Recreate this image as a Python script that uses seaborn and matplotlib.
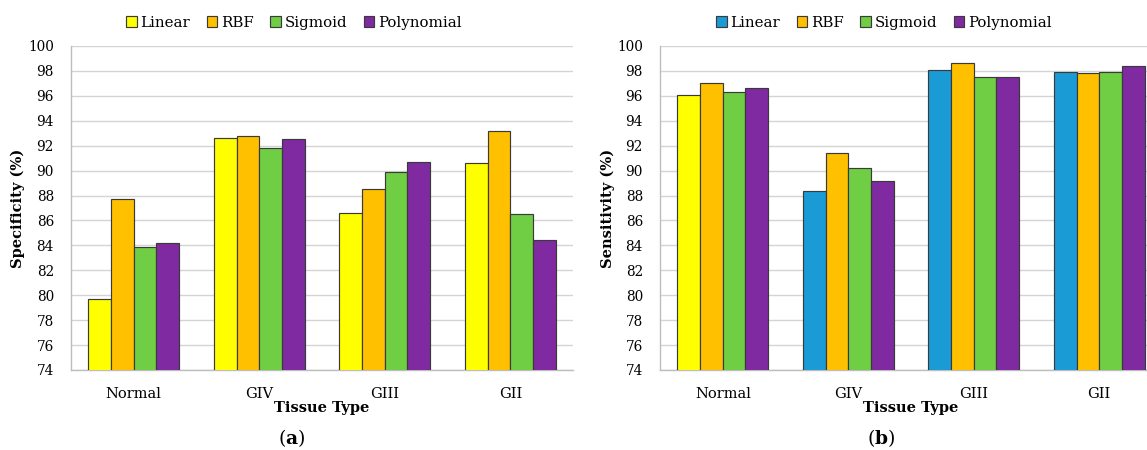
import numpy as np
import pandas as pd
import matplotlib
matplotlib.use("Agg")
import matplotlib.pyplot as plt
import seaborn as sns

# ---- data -------------------------------------------------------------
tissues = ["Normal", "GIV", "GIII", "GII"]
kernels = ["Linear", "RBF", "Sigmoid", "Polynomial"]

spec_linear = [79.7, 92.6, 86.6, 90.6]
spec_rbf = [87.7, 92.8, 88.5, 93.2]
spec_sigmoid = [83.9, 91.8, 89.9, 86.5]
spec_poly = [84.2, 92.5, 90.7, 84.4]

sens_linear = [96.1, 88.4, 98.1, 97.9]
sens_rbf = [97.0, 91.4, 98.6, 97.8]
sens_sigmoid = [96.3, 90.2, 97.5, 97.9]
sens_poly = [96.6, 89.2, 97.5, 98.4]

y_ticks = list(range(74, 101, 2))

# ---- styling ----------------------------------------------------------
YELLOW = "#FFFF00"
ORANGE = "#FFC000"
GREEN = "#70CE44"
PURPLE = "#7F2AA0"
BLUE = "#1A9BD6"
EDGE = "#3a3a3a"
GRID = "#d4d4d4"
AXIS = "#bdbdbd"

palette_a = [YELLOW, ORANGE, GREEN, PURPLE]
palette_b = [BLUE, ORANGE, GREEN, PURPLE]
# the Normal/Linear bar of the sensitivity panel is filled yellow
linear_fill_b = [YELLOW, BLUE, BLUE, BLUE]

sns.set_theme(style="white")
plt.rcParams["font.family"] = ["DejaVu Serif"]
plt.rcParams["mathtext.fontset"] = "dejavuserif"
for key in ["text.color", "axes.labelcolor", "xtick.labelcolor",
            "ytick.labelcolor"]:
    plt.rcParams[key] = "black"


def long_frame(linear, rbf, sigmoid, poly):
    rows = []
    for kernel, vals in zip(kernels, [linear, rbf, sigmoid, poly]):
        for tissue, v in zip(tissues, vals):
            rows.append({"Tissue": tissue, "Kernel": kernel, "Value": v})
    return pd.DataFrame(rows)


def draw_panel(fig, rect, df, palette, ylabel, legend_x, letter, letter_x,
               ylabel_x, linear_fill=None):
    ax = fig.add_axes(rect)
    sns.barplot(data=df, x="Tissue", y="Value", hue="Kernel",
                order=tissues, hue_order=kernels, palette=palette,
                width=0.725, saturation=1.0, errorbar=None,
                edgecolor=EDGE, linewidth=0.85, ax=ax, zorder=3)
    if linear_fill is not None:
        for bar, color in zip(ax.containers[0], linear_fill):
            bar.set_facecolor(color)

    ax.set_ylim(74, 100)
    ax.set_yticks(y_ticks)
    ax.set_yticklabels([str(t) for t in y_ticks], fontsize=9.8)
    ax.yaxis.grid(True, color=GRID, linewidth=1.0)
    ax.set_axisbelow(True)

    for side in ["top", "right"]:
        ax.spines[side].set_visible(False)
    for side in ["left", "bottom"]:
        ax.spines[side].set_color(AXIS)
        ax.spines[side].set_linewidth(1.0)

    ax.tick_params(axis="y", which="major", direction="out", length=4.3,
                   width=1.0, color=AXIS, pad=8, labelcolor="black")
    ax.set_xticks(range(len(tissues)))
    ax.set_xticklabels(tissues, fontsize=10.5)
    ax.set_xticks(np.arange(-0.5, len(tissues), 1.0), minor=True)
    ax.tick_params(axis="x", which="major", length=0, pad=12,
                   labelcolor="black")
    ax.tick_params(axis="x", which="minor", direction="out", length=4.5,
                   width=1.0, color=AXIS)
    ax.set_xlim(-0.5, len(tissues) - 0.5)

    ax.set_xlabel("Tissue Type", fontsize=10.5, fontweight="bold",
                  color="black")
    ax.xaxis.set_label_coords(0.5, -0.097)
    ax.set_ylabel(ylabel, fontsize=10.5, fontweight="bold", color="black")
    ax.yaxis.set_label_coords(ylabel_x, 0.5)

    sns.move_legend(ax, "center", bbox_to_anchor=(legend_x, 0.949),
                    bbox_transform=fig.transFigure, ncol=4, frameon=False,
                    title=None, fontsize=10.8, handlelength=0.7,
                    handleheight=0.7, handletextpad=0.25,
                    columnspacing=1.1, labelcolor="black")
    for h in ax.get_legend().legend_handles:
        h.set_edgecolor(EDGE)
        h.set_linewidth(0.85)

    fig.text(letter_x, 0.026, letter, ha="center", va="center", fontsize=13.5,
             color="black")
    return ax


fig = plt.figure(figsize=(11.47, 4.5), dpi=100)

H0, H1 = 0.1778, 0.72
draw_panel(fig, [71 / 1147, H0, 502 / 1147, H1],
           long_frame(spec_linear, spec_rbf, spec_sigmoid, spec_poly),
           palette_a, "Specificity (%)", 294 / 1147,
           r"($\mathbf{a}$)", 292 / 1147, -0.092)
draw_panel(fig, [660 / 1147, H0, 502 / 1147, H1],
           long_frame(sens_linear, sens_rbf, sens_sigmoid, sens_poly),
           palette_b, "Sensitivity (%)", 884 / 1147,
           r"($\mathbf{b}$)", 881 / 1147, -0.090, linear_fill=linear_fill_b)

fig.savefig("out.png", dpi=100, facecolor="white")
